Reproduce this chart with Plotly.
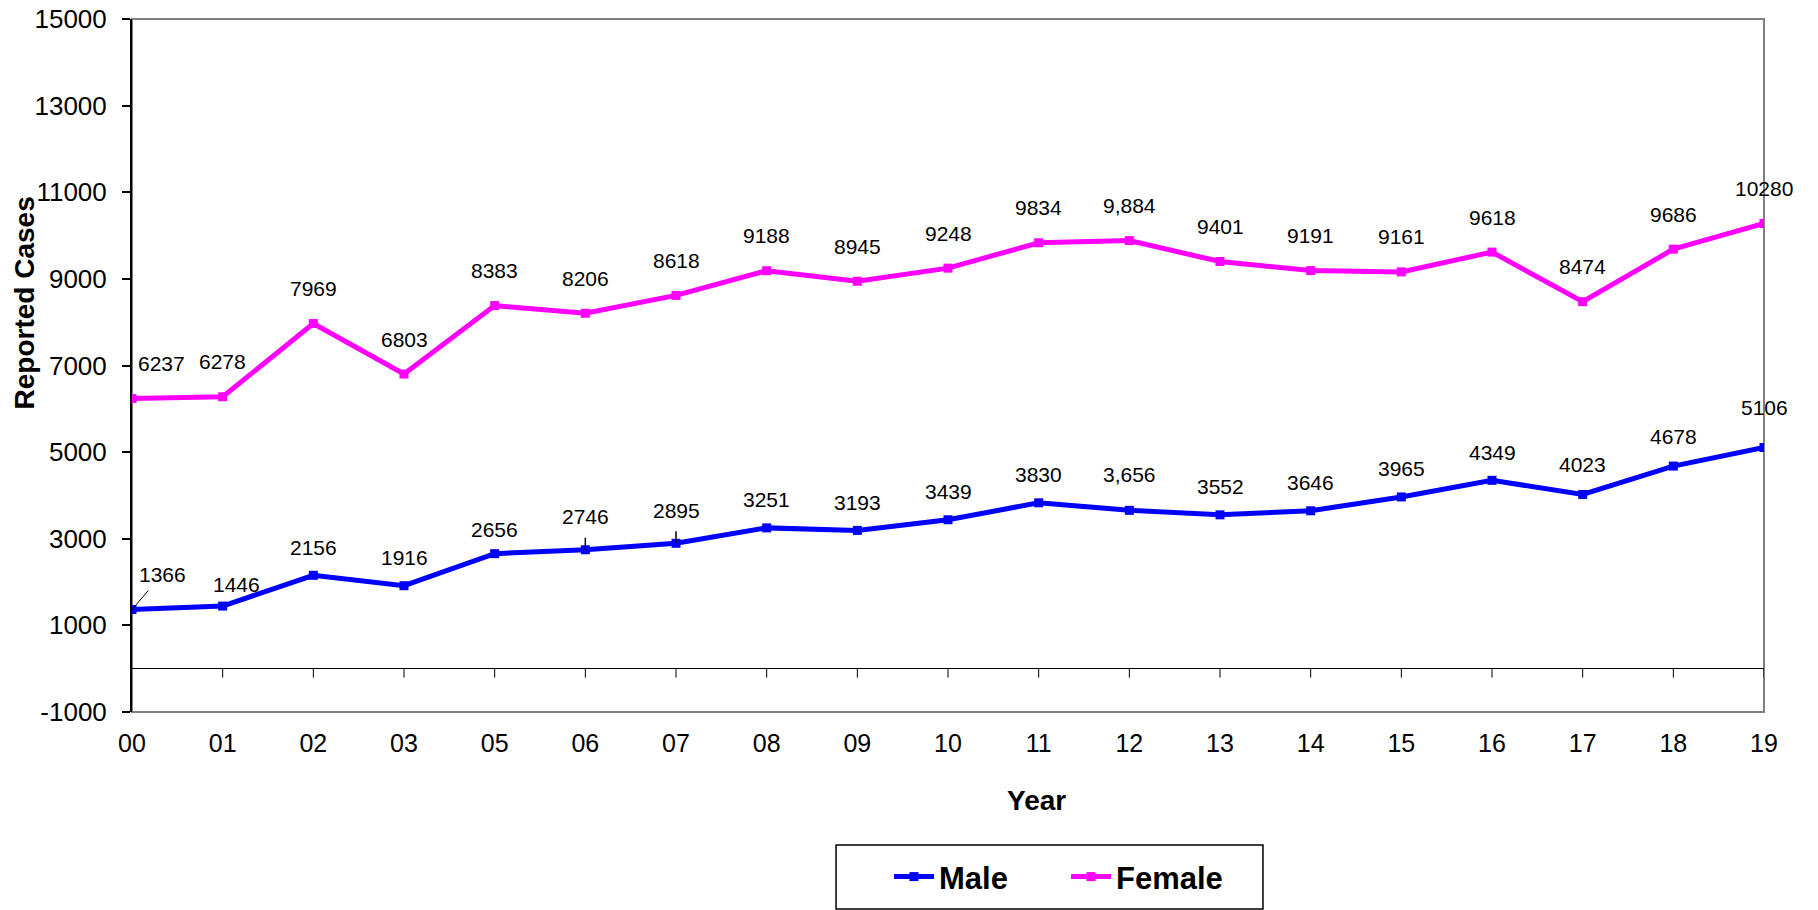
import plotly.graph_objects as go

years = ["00", "01", "02", "03", "05", "06", "07", "08", "09", "10",
         "11", "12", "13", "14", "15", "16", "17", "18", "19"]
male = [1366, 1446, 2156, 1916, 2656, 2746, 2895, 3251, 3193, 3439,
        3830, 3656, 3552, 3646, 3965, 4349, 4023, 4678, 5106]
female = [6237, 6278, 7969, 6803, 8383, 8206, 8618, 9188, 8945, 9248,
          9834, 9884, 9401, 9191, 9161, 9618, 8474, 9686, 10280]
male_labels = ["1366", "1446", "2156", "1916", "2656", "2746", "2895", "3251", "3193", "3439",
               "3830", "3,656", "3552", "3646", "3965", "4349", "4023", "4678", "5106"]
female_labels = ["6237", "6278", "7969", "6803", "8383", "8206", "8618", "9188", "8945", "9248",
                 "9834", "9,884", "9401", "9191", "9161", "9618", "8474", "9686", "10280"]
y_ticks = [-1000, 1000, 3000, 5000, 7000, 9000, 11000, 13000, 15000]
y_tick_text = ["-1000", "1000", "3000", "5000", "7000", "9000", "11000", "13000", "15000"]

BLUE = "#0000FF"
MAGENTA = "#FF00FF"
FONT = "Arial, Liberation Sans, sans-serif"

fig = go.Figure()
fig.add_trace(go.Scatter(x=years, y=male, name="Male", mode="lines+markers",
                         line=dict(color=BLUE, width=5),
                         marker=dict(symbol="square", size=9, color=BLUE)))
fig.add_trace(go.Scatter(x=years, y=female, name="Female", mode="lines+markers",
                         line=dict(color=MAGENTA, width=5),
                         marker=dict(symbol="square", size=9, color=MAGENTA)))

# label pixel offsets (style)
male_shift = {1: (14, 22), 4: (0, 24), 11: (0, 36), 16: (0, 30), 17: (0, 30)}
male_last_shift = (0, 40)
label_font = dict(size=21, color="black", family=FONT)
annotations = []
for i, (v, t) in enumerate(zip(female, female_labels)):
    xs, ys = (29, 35) if i == 0 else (0, 35)
    annotations.append(dict(x=i, y=v, text=t, showarrow=False, xshift=xs, yshift=ys,
                            font=label_font))
for i, (v, t) in enumerate(zip(male, male_labels)):
    if i == 0:
        annotations.append(dict(x=i, y=v, text=t, showarrow=True, arrowhead=0, arrowwidth=1,
                                arrowcolor="black", ax=30, ay=-35, borderpad=4,
                                font=label_font))
        continue
    if i in (5, 6):
        annotations.append(dict(x=i, y=v, text=t, showarrow=True, arrowhead=0, arrowwidth=1.5,
                                arrowcolor="black", ax=0, ay=-33, borderpad=9,
                                font=label_font))
        continue
    xs, ys = male_shift.get(i, (0, 28))
    if i == len(years) - 1:
        xs, ys = male_last_shift
    annotations.append(dict(x=i, y=v, text=t, showarrow=False, xshift=xs, yshift=ys,
                            font=label_font))

annotations.append(dict(xref="paper", yref="paper", x=-0.066, y=0.59, text="<b>Reported Cases</b>",
                        textangle=-90, showarrow=False, xanchor="center", yanchor="middle",
                        font=dict(size=28, color="black", family=FONT)))
annotations.append(dict(xref="paper", yref="paper", x=0.5545, y=-0.128, text="<b>Year</b>",
                        showarrow=False, xanchor="center", yanchor="middle",
                        font=dict(size=28, color="black", family=FONT)))

shapes = [
    dict(type="rect", xref="paper", yref="paper", x0=0, x1=1, y0=0, y1=1,
         line=dict(color="#808080", width=2), layer="below"),
    dict(type="rect", xref="paper", yref="paper", x0=0.4314, x1=0.693, y0=-0.2843, y1=-0.1919,
         line=dict(color="black", width=1.5)),
]
for i in range(1, len(years)):
    shapes.append(dict(type="line", xref="x", yref="y", x0=i, x1=i, ysizemode="pixel",
                       yanchor=0, y0=0, y1=-9, line=dict(color="black", width=1)))

fig.update_layout(
    width=1818, height=910,
    margin=dict(l=132, r=54, t=19, b=198, autoexpand=False),
    plot_bgcolor="white", paper_bgcolor="white",
    font=dict(family=FONT, color="black"),
    showlegend=True,
    legend=dict(orientation="h", x=0.5723, y=-0.238, xanchor="center", yanchor="middle",
                font=dict(size=31, family=FONT, color="black", weight="bold"),
                bgcolor="rgba(0,0,0,0)", itemwidth=40, entrywidth=122),
    annotations=annotations,
    shapes=shapes,
)
fig.update_xaxes(type="category", categoryorder="array", categoryarray=years,
                 range=[0, len(years) - 1], showgrid=False, showline=False, ticks="",
                 tickfont=dict(size=25, family=FONT, color="black"), ticklabelstandoff=14)
fig.update_yaxes(range=[-1000, 15000], tickvals=y_ticks, ticktext=y_tick_text, showgrid=False,
                 showline=True, linecolor="black", linewidth=2,
                 ticks="outside", ticklen=8, tickwidth=2, tickcolor="black",
                 zeroline=True, zerolinecolor="black", zerolinewidth=1,
                 ticklabeloverflow="allow",
                 tickfont=dict(size=26, family=FONT, color="black"), ticklabelstandoff=10)

fig.write_html("out.html", config={"displayModeBar": False},
               post_script="document.body.style.margin='0';")
